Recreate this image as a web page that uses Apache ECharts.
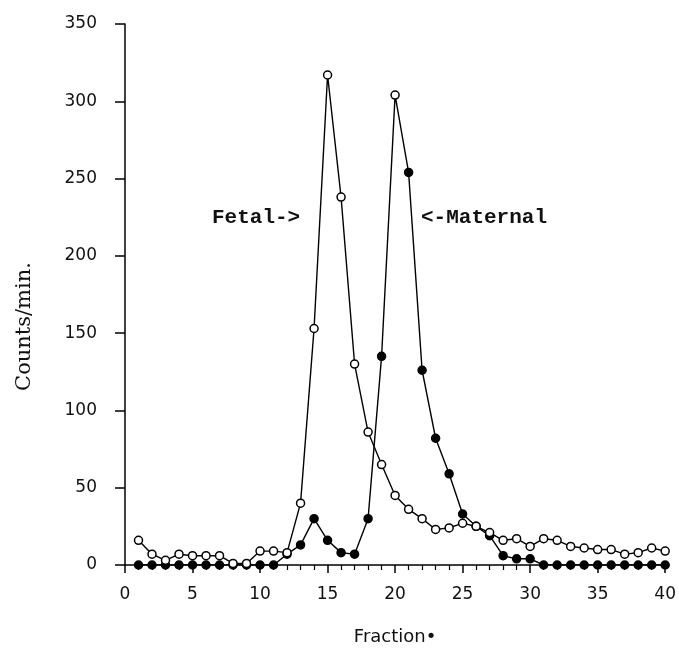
<!DOCTYPE html>
<html>
<head>
<meta charset="utf-8">
<script src="https://cdn.jsdelivr.net/npm/echarts@6/dist/echarts.min.js"></script>
<style>html,body{margin:0;padding:0;background:#fff;}#c{width:679px;height:651px;}</style>
</head>
<body>
<div id="c"></div>
<script>
const fractions = [1,2,3,4,5,6,7,8,9,10,11,12,13,14,15,16,17,18,19,20,21,22,23,24,25,26,27,28,29,30,31,32,33,34,35,36,37,38,39,40];
const fetalValues = [16,7,3,7,6,6,6,1,1,9,9,8,40,153,317,238,130,86,65,45,36,30,23,24,27,25,21,16,17,12,17,16,12,11,10,10,7,8,11,9];
const maternalValues = [0,0,0,0,0,0,0,0,0,0,0,7,13,30,16,8,7,30,135,304,254,126,82,59,33,25,19,6,4,4,0,0,0,0,0,0,0,0,0,0];
const xTicks = [0,5,10,15,20,25,30,35,40];
const yTicks = [0,50,100,150,200,250,300,350];
const annotations = ['Fetal->', '<-Maternal'];

const chart = echarts.init(document.getElementById('c'), null, {renderer:'canvas'});
const fetalData = fractions.map((f,i)=>[f, fetalValues[i]]);
const maxIdx = maternalValues.indexOf(Math.max(...maternalValues));
const maternalData = fractions.map((f,i)=> i===maxIdx ? {value:[f, maternalValues[i]], itemStyle:{color:'#fff'}} : [f, maternalValues[i]]);

const labelFont = {color:'#111', fontFamily:'DejaVu Sans', fontSize:17};
chart.setOption({
  animation:false,
  backgroundColor:'#fff',
  grid:{left:125, right:11, top:24, bottom:83, containLabel:false},
  xAxis:{
    type:'value', min:xTicks[0], max:xTicks[xTicks.length-1], interval:5,
    name:'Fraction•', nameLocation:'middle', nameGap:63,
    nameTextStyle:{color:'#111', fontFamily:'DejaVu Sans', fontSize:18},
    axisLine:{show:true, lineStyle:{color:'#000', width:1.5}},
    axisTick:{show:true, length:8, lineStyle:{color:'#000', width:1.5}},
    minorTick:{show:true, splitNumber:5, length:5, lineStyle:{color:'#000', width:1.2}},
    axisLabel:Object.assign({margin:21}, labelFont),
    splitLine:{show:false}
  },
  yAxis:{
    type:'value', min:yTicks[0], max:yTicks[yTicks.length-1], interval:50,
    name:'Counts/min.', nameLocation:'middle', nameGap:90,
    nameTextStyle:{color:'#111', fontFamily:'DejaVu Serif', fontSize:21, padding:[0,64,0,0]},
    axisLine:{show:true, lineStyle:{color:'#000', width:1.5}},
    axisTick:{show:true, length:10, lineStyle:{color:'#000', width:1.5}},
    axisLabel:Object.assign({margin:28}, labelFont),
    splitLine:{show:false}
  },
  series:[
    {type:'line', name:'Maternal', data:maternalData, symbol:'circle', symbolSize:8,
     lineStyle:{color:'#000', width:1.4}, itemStyle:{color:'#000', borderColor:'#000', borderWidth:1.5}, z:2},
    {type:'line', name:'Fetal', data:fetalData, symbol:'circle', symbolSize:8,
     lineStyle:{color:'#000', width:1.4}, itemStyle:{color:'#fff', borderColor:'#000', borderWidth:1.5}, z:3}
  ],
  graphic:[
    {type:'text', left:212, top:207, style:{text:annotations[0], fill:'#111', font:'bold 21px "Liberation Mono"'}},
    {type:'text', left:421, top:207, style:{text:annotations[1], fill:'#111', font:'bold 21px "Liberation Mono"'}}
  ]
});
</script>
</body>
</html>
